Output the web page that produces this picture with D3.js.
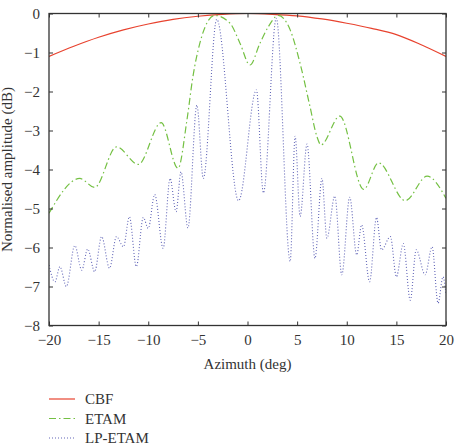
<!DOCTYPE html>
<html>
<head>
<meta charset="utf-8">
<script src="https://cdn.jsdelivr.net/npm/d3@7"></script>
<style>
body { margin: 0; background: #fff; }
</style>
</head>
<body>
<svg></svg>
<script>
// CBF beam pattern
var cbfAz = [-20, -17.5, -15, -12.5, -10, -7.5, -5, -2.5, 0, 2.5, 5, 7.5, 10, 12.5, 15, 17.5, 20];
var cbfDb = [-1.1, -0.84, -0.61, -0.42, -0.27, -0.15, -0.07, -0.02, 0, -0.02, -0.06, -0.14, -0.25, -0.38, -0.54, -0.8, -1.1];

// ETAM
var etamAz = [-20, -16.9, -15.4, -13.2, -11.0, -8.7, -7.0, -6.1, -5.5, -4.8, -4.1, -3.3, -1.76, -0.76, 0.25, 1.26, 2.1, 3.1, 4.3, 5.3, 6.3, 7.0, 7.4, 9.3, 11.7, 13.2, 15.9, 18.1, 20];
var etamDb = [-5.12, -4.23, -4.46, -3.42, -3.87, -2.8, -3.97, -2.73, -1.62, -0.76, -0.25, -0.05, -0.25, -0.76, -1.32, -0.76, -0.34, -0.05, -0.42, -1.28, -2.39, -3.16, -3.37, -2.63, -4.51, -3.83, -4.8, -4.17, -4.74];

// LP-ETAM
var lpAz = [-20, -19.4, -18.9, -18.25, -17.4, -16.7, -16.1, -15.4, -14.7, -13.9, -13.2, -12.5, -11.9, -11.2, -10.5, -10.0, -9.35, -8.5, -7.8, -7.2, -6.7, -6.0, -5.1, -4.45, -3.1, -0.9, 0.9, 1.6, 2.9, 4.3, 4.8, 5.3, 6.0, 6.8, 7.5, 8.0, 8.8, 9.5, 10.3, 11.0, 11.5, 12.3, 13.0, 13.5, 14.4, 15.0, 15.7, 16.4, 17.0, 17.9, 18.6, 19.2, 19.7, 20];
var lpDb = [-6.45, -6.88, -6.49, -7.0, -5.95, -6.58, -6.04, -6.62, -5.72, -6.53, -5.72, -5.98, -5.21, -6.49, -5.23, -5.51, -4.64, -6.02, -4.23, -5.08, -4.06, -5.5, -2.35, -4.23, -0.15, -4.8, -1.96, -4.6, -0.12, -6.36, -3.15, -5.2, -3.35, -6.28, -4.23, -5.76, -4.68, -6.7, -4.71, -6.19, -5.42, -6.88, -5.23, -6.06, -5.72, -6.75, -5.9, -7.35, -6.06, -6.7, -5.98, -7.43, -6.75, -7.2];

var xTicks = [-20, -15, -10, -5, 0, 5, 10, 15, 20];
var yTicks = [0, -1, -2, -3, -4, -5, -6, -7, -8];

var legendNames = ["CBF", "ETAM", "LP-ETAM"];

var screen = {width: 455, height: 448};
var plot = {left: 49, right: 446, top: 13.5, bottom: 325.5};
var serif = "'Liberation Serif', 'DejaVu Serif', serif";
var ink = "#333";
var fontSize = 15;

var svg = d3.select("svg")
    .attr("width", screen.width)
    .attr("height", screen.height)
    .attr("font-family", serif);

var xScale = d3.scaleLinear().domain([-20, 20]).range([plot.left, plot.right]);
var yScale = d3.scaleLinear().domain([-8, 0]).range([plot.bottom, plot.top]);

var fmt = function(d) { return d < 0 ? "\u2212" + Math.abs(d) : "" + d; };

var styles = [
    {color: "#e8432f", dash: null, width: 1.2},
    {color: "#74c043", dash: "7,3,1.5,3", width: 1.2},
    {color: "#6266b8", dash: "1,2", width: 1.1}
];

var series = [
    cbfAz.map(function(a, i) { return {x: a, y: cbfDb[i]}; }),
    etamAz.map(function(a, i) { return {x: a, y: etamDb[i]}; }),
    lpAz.map(function(a, i) { return {x: a, y: lpDb[i]}; })
];

var line = d3.line()
    .x(function(d) { return xScale(d.x); })
    .y(function(d) { return yScale(d.y); })
    .curve(d3.curveMonotoneX);

svg.append("defs").append("clipPath").attr("id", "clip")
    .append("rect")
    .attr("x", plot.left).attr("y", plot.top - 2)
    .attr("width", plot.right - plot.left).attr("height", plot.bottom - plot.top + 2);

var lines = svg.append("g").attr("clip-path", "url(#clip)");
series.forEach(function(s, i)
{
    lines.append("path")
        .datum(s)
        .attr("d", line)
        .attr("fill", "none")
        .attr("stroke", styles[i].color)
        .attr("stroke-width", styles[i].width)
        .attr("stroke-dasharray", styles[i].dash);
});

// axes, ticks inward on all four sides
var tickLen = 4;
var axes = [
    svg.append("g")
        .attr("transform", "translate(0," + plot.bottom + ")")
        .call(d3.axisBottom(xScale).tickValues(xTicks).tickSizeInner(-tickLen).tickSizeOuter(0).tickPadding(9).tickFormat(fmt)),
    svg.append("g")
        .attr("transform", "translate(0," + plot.top + ")")
        .call(d3.axisTop(xScale).tickValues(xTicks).tickSizeInner(-tickLen).tickSizeOuter(0).tickFormat("")),
    svg.append("g")
        .attr("transform", "translate(" + plot.left + ",0)")
        .call(d3.axisLeft(yScale).tickValues(yTicks).tickSizeInner(-tickLen).tickSizeOuter(0).tickPadding(9).tickFormat(fmt)),
    svg.append("g")
        .attr("transform", "translate(" + plot.right + ",0)")
        .call(d3.axisRight(yScale).tickValues(yTicks).tickSizeInner(-tickLen).tickSizeOuter(0).tickFormat(""))
];
axes.forEach(function(g)
{
    g.attr("font-family", serif).attr("font-size", fontSize);
    g.select(".domain").remove();
    g.selectAll(".tick line").attr("stroke", ink);
    g.selectAll(".tick text").attr("fill", ink);
});

svg.append("rect")
    .attr("x", plot.left).attr("y", plot.top)
    .attr("width", plot.right - plot.left).attr("height", plot.bottom - plot.top)
    .attr("fill", "none").attr("stroke", ink).attr("stroke-width", 1.3);

svg.append("text")
    .attr("x", (plot.left + plot.right) / 2)
    .attr("y", 369)
    .attr("text-anchor", "middle")
    .attr("font-size", fontSize)
    .attr("fill", ink)
    .text("Azimuth (deg)");

svg.append("text")
    .attr("transform", "translate(12," + ((plot.top + plot.bottom) / 2) + ") rotate(-90)")
    .attr("text-anchor", "middle")
    .attr("font-size", fontSize)
    .attr("fill", ink)
    .text("Normalised amplitude (dB)");

// legend
legendNames.forEach(function(name, i)
{
    var y = 399 + i * 19.5;
    svg.append("line")
        .attr("x1", 49).attr("x2", 75)
        .attr("y1", y).attr("y2", y)
        .attr("stroke", styles[i].color)
        .attr("stroke-width", styles[i].width)
        .attr("stroke-dasharray", styles[i].dash);
    svg.append("text")
        .attr("x", 85).attr("y", y + 5)
        .attr("font-size", fontSize)
        .attr("fill", ink)
        .text(name);
});
</script>
</body>
</html>
